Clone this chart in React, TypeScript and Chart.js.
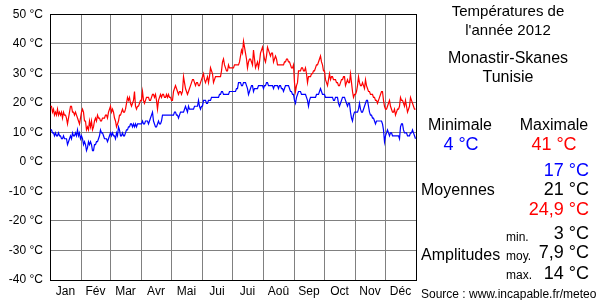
import React, { useEffect, useRef } from 'react';
import { Chart, registerables } from 'chart.js';

Chart.register(...registerables);

const FONT = "'Liberation Sans', Arial, Helvetica, sans-serif";

const MONTHS = ['Jan', 'Fév', 'Mar', 'Avr', 'Mai', 'Jui', 'Jui', 'Aoû', 'Sep', 'Oct', 'Nov', 'Déc'];
const MONTH_LENGTHS = [31, 29, 31, 30, 31, 30, 31, 31, 30, 31, 30, 31];

// Daily maximum temperatures 2012 (°C)
const TMAX = [
  19, 19, 17, 18, 16, 17, 16, 18, 16, 17,
  16, 17, 15, 17, 16, 16, 15, 13, 15, 17,
  19, 19, 17, 17, 16, 17, 16, 15, 14, 13,
  15, 17, 18, 17, 14, 14, 11, 12, 11, 14,
  12, 14, 11, 12, 14, 15, 14, 16, 15, 15,
  14, 14, 15, 15, 15, 16, 16, 15, 17, 18,
  19, 17, 18, 17, 15, 14, 12, 13, 14, 16,
  16, 17, 18, 17, 17, 18, 20, 22, 21, 22,
  20, 19, 20, 21, 24, 19, 18, 19, 19, 20,
  21, 21, 24, 21, 20, 21, 22, 22, 22, 21,
  21, 22, 23, 23, 22, 23, 21, 18, 21, 22,
  23, 22, 23, 23, 22, 22, 23, 22, 23, 22,
  22, 21, 21, 24, 25, 26, 25, 24, 23, 24,
  24, 23, 24, 29, 27, 25, 24, 23, 24, 25,
  26, 27, 28, 28, 27, 26, 27, 27, 26, 26,
  27, 28, 29, 30, 28, 27, 28, 29, 27, 29,
  32, 31, 30, 27, 28, 29, 29, 29, 29, 29,
  29, 31, 34, 35, 33, 32, 31, 31, 33, 32,
  32, 32, 32, 32, 33, 33, 33, 33, 33, 34,
  36, 38, 37, 41, 39, 37, 35, 32, 34, 35,
  35, 34, 33, 38, 35, 32, 33, 34, 32, 34,
  37, 38, 39, 37, 35, 34, 36, 39, 38, 37,
  36, 37, 37, 34, 35, 36, 35, 33, 33, 33,
  33, 33, 33, 33, 34, 34, 35, 35, 34, 34,
  33, 32, 32, 33, 27, 24, 26, 27, 31, 31,
  31, 32, 32, 31, 31, 32, 30, 27, 29, 29,
  29, 30, 30, 31, 31, 32, 33, 33, 34, 35,
  36, 34, 33, 31, 31, 28, 27, 26, 28, 30,
  28, 29, 29, 28, 28, 28, 27, 27, 26, 26,
  27, 28, 28, 29, 29, 26, 27, 28, 27, 27,
  30, 27, 24, 22, 23, 23, 24, 26, 29, 27,
  26, 26, 27, 26, 25, 28, 26, 25, 24, 24,
  23, 23, 23, 22, 22, 21, 21, 20, 21, 22,
  23, 24, 24, 21, 19, 18, 18, 19, 20, 21,
  19, 18, 17, 17, 18, 16, 17, 18, 18, 19,
  22, 21, 21, 20, 19, 21, 19, 17, 18, 19,
  22, 21, 20, 19, 18, 18,
];

// Daily minimum temperatures 2012 (°C)
const TMIN = [
  11, 11, 10, 10, 9, 10, 9, 9, 10, 9,
  9, 8, 8, 9, 8, 8, 8, 6, 7, 8,
  9, 8, 10, 9, 9, 10, 9, 11, 9, 10,
  8, 9, 8, 6, 7, 6, 4, 5, 7, 6,
  7, 6, 4, 4, 6, 6, 7, 7, 8, 9,
  11, 10, 10, 9, 8, 8, 8, 7, 8, 9,
  10, 9, 10, 9, 9, 8, 10, 9, 12, 11,
  9, 9, 10, 9, 9, 10, 11, 11, 12, 12,
  13, 13, 12, 13, 12, 13, 12, 13, 13, 13,
  13, 13, 14, 13, 13, 14, 14, 14, 13, 14,
  15, 16, 17, 14, 13, 12, 12, 13, 14, 13,
  13, 14, 16, 16, 16, 16, 16, 16, 16, 16,
  16, 16, 16, 16, 17, 17, 16, 16, 15, 16,
  17, 17, 17, 17, 18, 19, 18, 17, 19, 18,
  18, 18, 18, 18, 19, 19, 19, 19, 21, 19,
  18, 19, 19, 21, 21, 21, 20, 20, 21, 21,
  21, 22, 22, 22, 22, 22, 22, 22, 22, 23,
  23, 24, 24, 23, 23, 23, 23, 23, 23, 24,
  24, 24, 24, 24, 24, 24, 25, 25, 27, 27,
  27, 26, 26, 27, 27, 27, 26, 25, 23, 24,
  25, 26, 26, 24, 25, 25, 25, 25, 26, 26,
  26, 26, 26, 25, 26, 26, 27, 27, 26, 26,
  26, 26, 26, 25, 26, 26, 26, 26, 25, 26,
  26, 25, 25, 24, 25, 26, 26, 26, 26, 25,
  24, 24, 23, 23, 21, 20, 22, 23, 24, 24,
  24, 23, 23, 23, 23, 23, 22, 21, 19, 21,
  22, 22, 22, 22, 22, 22, 23, 23, 23, 24,
  25, 24, 23, 23, 23, 22, 22, 22, 22, 22,
  22, 22, 22, 21, 21, 22, 22, 22, 20, 19,
  20, 21, 22, 22, 22, 21, 20, 19, 20, 20,
  17, 15, 14, 16, 17, 17, 17, 17, 18, 20,
  18, 17, 17, 18, 19, 20, 21, 21, 19, 17,
  16, 16, 15, 15, 14, 13, 14, 14, 14, 14,
  14, 14, 13, 11, 7, 9, 10, 11, 10, 9,
  10, 10, 9, 9, 9, 9, 9, 9, 9, 8,
  12, 13, 13, 11, 10, 10, 10, 9, 9, 9,
  10, 10, 11, 10, 9, 8,
];

const TITLE_LINES = ['Températures de', "l'année 2012"];
const STATION_LINES = ['Monastir-Skanes', 'Tunisie'];
const EXTREME_LABELS = ['Minimale', 'Maximale'];
const EXTREME_VALUES = ['4 °C', '41 °C'];
const MEAN_VALUES = ['17 °C', '21 °C', '24,9 °C'];
const AMPLITUDE_LABELS = ['min.', 'moy.', 'max.'];
const AMPLITUDE_VALUES = ['3 °C', '7,9 °C', '14 °C'];
const SOURCE = 'Source : www.incapable.fr/meteo';

const BOUNDARIES = MONTH_LENGTHS.reduce<number[]>((acc, d) => {
  acc.push(acc[acc.length - 1] + d);
  return acc;
}, [0]);
const MIDS = MONTHS.map((_, i) => (BOUNDARIES[i] + BOUNDARIES[i + 1]) / 2);
const DAYS = BOUNDARIES[BOUNDARIES.length - 1];

export default function App() {
  const ref = useRef<HTMLCanvasElement>(null);

  useEffect(() => {
    document.body.style.margin = '0';
    const canvas = ref.current;
    if (!canvas) return;

    const panel = {
      id: 'panel',
      beforeDatasetsDraw(chart: any) {
        const { ctx, chartArea: a } = chart;
        ctx.save();
        ctx.strokeStyle = '#000';
        ctx.lineWidth = 1;
        ctx.strokeRect(Math.round(a.left) + 0.5, Math.round(a.top) + 0.5, Math.round(a.right - a.left), Math.round(a.bottom - a.top));
        ctx.restore();
        ctx.save();
        ctx.translate(0, 0.5);
      },
      afterDatasetsDraw(chart: any) {
        chart.ctx.restore();
      },
      afterDraw(chart: any) {
        const ctx = chart.ctx;
        const BLUE = '#0000ff';
        const RED = '#ff0000';
        const BLACK = '#000000';
        const items: [string, number, number, CanvasTextAlign, number, string][] = [
          [TITLE_LINES[0], 508, 16, 'center', 15, BLACK],
          [TITLE_LINES[1], 508, 35, 'center', 15, BLACK],
          [STATION_LINES[0], 508, 63, 'center', 16, BLACK],
          [STATION_LINES[1], 508, 82, 'center', 16, BLACK],
          [EXTREME_LABELS[0], 460, 130, 'center', 16, BLACK],
          [EXTREME_LABELS[1], 554, 130, 'center', 16, BLACK],
          [EXTREME_VALUES[0], 461, 150, 'center', 18, BLUE],
          [EXTREME_VALUES[1], 554, 150, 'center', 18, RED],
          [MEAN_VALUES[0], 589, 176, 'right', 18, BLUE],
          ['Moyennes', 421, 195, 'left', 16, BLACK],
          [MEAN_VALUES[1], 589, 195, 'right', 18, BLACK],
          [MEAN_VALUES[2], 589, 215, 'right', 18, RED],
          [AMPLITUDE_LABELS[0], 506, 241, 'left', 12, BLACK],
          [AMPLITUDE_VALUES[0], 589, 239, 'right', 18, BLACK],
          ['Amplitudes', 421, 260, 'left', 16, BLACK],
          [AMPLITUDE_LABELS[1], 506, 260, 'left', 12, BLACK],
          [AMPLITUDE_VALUES[1], 589, 258, 'right', 18, BLACK],
          [AMPLITUDE_LABELS[2], 506, 279, 'left', 12, BLACK],
          [AMPLITUDE_VALUES[2], 589, 279, 'right', 18, BLACK],
          [SOURCE, 421, 298, 'left', 12, BLACK],
        ];
        ctx.save();
        ctx.textBaseline = 'alphabetic';
        for (const [t, x, y, align, size, color] of items) {
          ctx.font = `${size}px ${FONT}`;
          ctx.textAlign = align;
          ctx.fillStyle = color;
          ctx.fillText(t, x, y);
        }
        ctx.restore();
      },
    };

    const gridColor = (edgeA: number, edgeB: number) => (c: any) =>
      c.tick && (c.tick.value === edgeA || c.tick.value === edgeB) ? 'rgba(0,0,0,0)' : '#808080';

    const chart = new Chart(canvas, {
      type: 'line',
      data: {
        datasets: [
          {
            label: 'Minimale',
            data: TMIN.map((y, i) => ({ x: i + 0.5, y })),
            borderColor: '#0000ff',
            borderWidth: 1.2,
            pointRadius: 0,
            fill: false,
            tension: 0,
          },
          {
            label: 'Maximale',
            data: TMAX.map((y, i) => ({ x: i + 0.5, y })),
            borderColor: '#ff0000',
            borderWidth: 1.2,
            pointRadius: 0,
            fill: false,
            tension: 0,
          },
        ],
      },
      options: {
        animation: false,
        responsive: false,
        devicePixelRatio: 1,
        layout: { padding: { top: 10, right: 184, left: 0, bottom: 0 } },
        plugins: { legend: { display: false }, tooltip: { enabled: false } },
        scales: {
          x: {
            type: 'linear',
            min: 0,
            max: DAYS,
            position: 'bottom',
            afterBuildTicks: (s: any) => {
              s.ticks = BOUNDARIES.map((v) => ({ value: v }));
            },
            ticks: { display: false },
            grid: { color: gridColor(0, DAYS), drawTicks: false, lineWidth: 1 },
            border: { display: false },
            afterFit: (s: any) => {
              s.height = 0;
            },
          },
          xm: {
            type: 'linear',
            min: 0,
            max: DAYS,
            position: 'bottom',
            afterBuildTicks: (s: any) => {
              s.ticks = MIDS.map((v) => ({ value: v }));
            },
            ticks: {
              autoSkip: false,
              maxRotation: 0,
              padding: 4,
              color: '#000',
              font: { family: FONT, size: 12 },
              callback: (_v: any, i: number) => MONTHS[i],
            },
            grid: { display: false, drawTicks: false },
            border: { display: false },
            afterFit: (s: any) => {
              s.height = 20;
            },
          },
          y: {
            min: -40,
            max: 50,
            ticks: {
              stepSize: 10,
              padding: 7,
              color: '#000',
              font: { family: FONT, size: 12 },
              callback: (v: any) => `${v} °C`,
            },
            grid: { color: gridColor(-40, 50), drawTicks: false, lineWidth: 1 },
            border: { display: false },
            afterFit: (s: any) => {
              s.width = 50;
            },
          },
        },
      } as any,
      plugins: [panel],
    });

    return () => chart.destroy();
  }, []);

  return (
    <div style={{ position: 'fixed', left: 0, top: 0, width: 600, height: 300, background: '#fff' }}>
      <canvas ref={ref} width={600} height={300} style={{ width: 600, height: 300, display: 'block' }} />
    </div>
  );
}
